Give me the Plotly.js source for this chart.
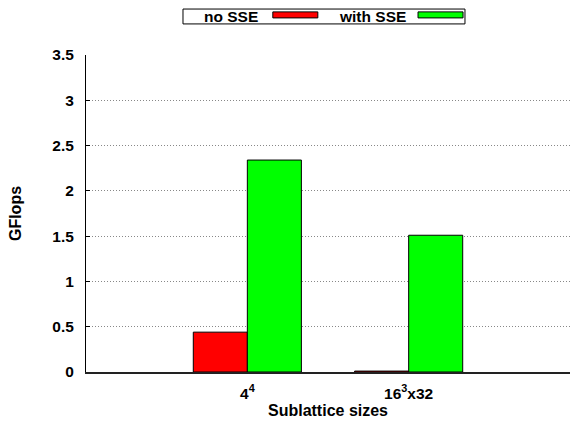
<!DOCTYPE html>
<html>
<head>
<meta charset="utf-8">
<script src="https://cdn.plot.ly/plotly-3.0.1.min.js"></script>
<style>html,body{margin:0;padding:0;background:#fff;}#chart{width:571px;height:421px;}</style>
</head>
<body>
<div id="chart"></div>
<script>
const categories = ['4<sup>4</sup>', '16<sup>3</sup>x32'];
const seriesNames = ['no SSE', 'with SSE'];
const noSSE = [0.44, 0.01];
const withSSE = [2.34, 1.51];
const yTicks = [0, 0.5, 1, 1.5, 2, 2.5, 3, 3.5];
const yTickText = ['0', '0.5', '1', '1.5', '2', '2.5', '3', '3.5'];

const FONT = 'Liberation Sans, Arial, Helvetica, sans-serif';
const FS = 15.5;
const colors = ['#ff0000', '#00ff00'];

const traces = [
  {type: 'bar', name: seriesNames[0], x: categories, y: noSSE,
   marker: {color: colors[0], line: {color: '#000', width: 1}}, showlegend: false, hoverinfo: 'y'},
  {type: 'bar', name: seriesNames[1], x: categories, y: withSSE,
   marker: {color: colors[1], line: {color: '#000', width: 1}}, showlegend: false, hoverinfo: 'y'}
];

// Custom legend box in gnuplot style (text left of sample)
const shapes = [
  {type: 'rect', xref: 'paper', yref: 'paper', x0: 0.2004, x1: 0.783, y0: 1.098, y1: 1.145,
   line: {color: '#000', width: 1}, fillcolor: 'rgba(0,0,0,0)'},
  {type: 'rect', xref: 'paper', yref: 'paper', x0: 0.386, x1: 0.479, y0: 1.117, y1: 1.136,
   line: {color: '#000', width: 1}, fillcolor: colors[0]},
  {type: 'rect', xref: 'paper', yref: 'paper', x0: 0.686, x1: 0.779, y0: 1.117, y1: 1.136,
   line: {color: '#000', width: 1}, fillcolor: colors[1]}
];
const annotations = [
  {xref: 'paper', yref: 'paper', x: 0.3595, y: 1.1215, xanchor: 'right', yanchor: 'middle',
   text: seriesNames[0], showarrow: false, font: {family: FONT, size: FS, weight: 'bold', color: '#000'}},
  {xref: 'paper', yref: 'paper', x: 0.665, y: 1.1215, xanchor: 'right', yanchor: 'middle',
   text: seriesNames[1], showarrow: false, font: {family: FONT, size: FS, weight: 'bold', color: '#000'}}
];

const layout = {
  width: 571, height: 421,
  margin: {l: 86, r: 1, t: 55, b: 49, pad: 0},
  paper_bgcolor: '#fff', plot_bgcolor: '#fff',
  font: {family: FONT, size: FS, color: '#000', weight: 'bold'},
  barmode: 'group', bargap: 0.33, bargroupgap: 0,
  showlegend: false,
  xaxis: {
    type: 'category', range: [-1, 2],
    showgrid: false, zeroline: false,
    showline: true, linecolor: '#222', linewidth: 2,
    ticks: '', ticklabelstandoff: 6,
    tickfont: {family: FONT, size: FS, weight: 'bold'},
    title: {text: 'Sublattice sizes', font: {family: FONT, size: 16, weight: 'bold'}, standoff: 4}
  },
  yaxis: {
    range: [0, 3.5], tickvals: yTicks, ticktext: yTickText,
    showgrid: true, gridcolor: '#888', griddash: '1px,2px', gridwidth: 1,
    zeroline: false, showline: true, linecolor: '#000', linewidth: 1,
    ticks: 'inside', ticklen: 4, tickcolor: '#000',
    ticklabelstandoff: 8,
    tickfont: {family: FONT, size: FS, weight: 'bold'},
    title: {text: 'GFlops', font: {family: FONT, size: 16, weight: 'bold'}, standoff: 26}
  },
  shapes: shapes,
  annotations: annotations
};

Plotly.newPlot('chart', traces, layout, {displayModeBar: false, staticPlot: true});
</script>
</body>
</html>
